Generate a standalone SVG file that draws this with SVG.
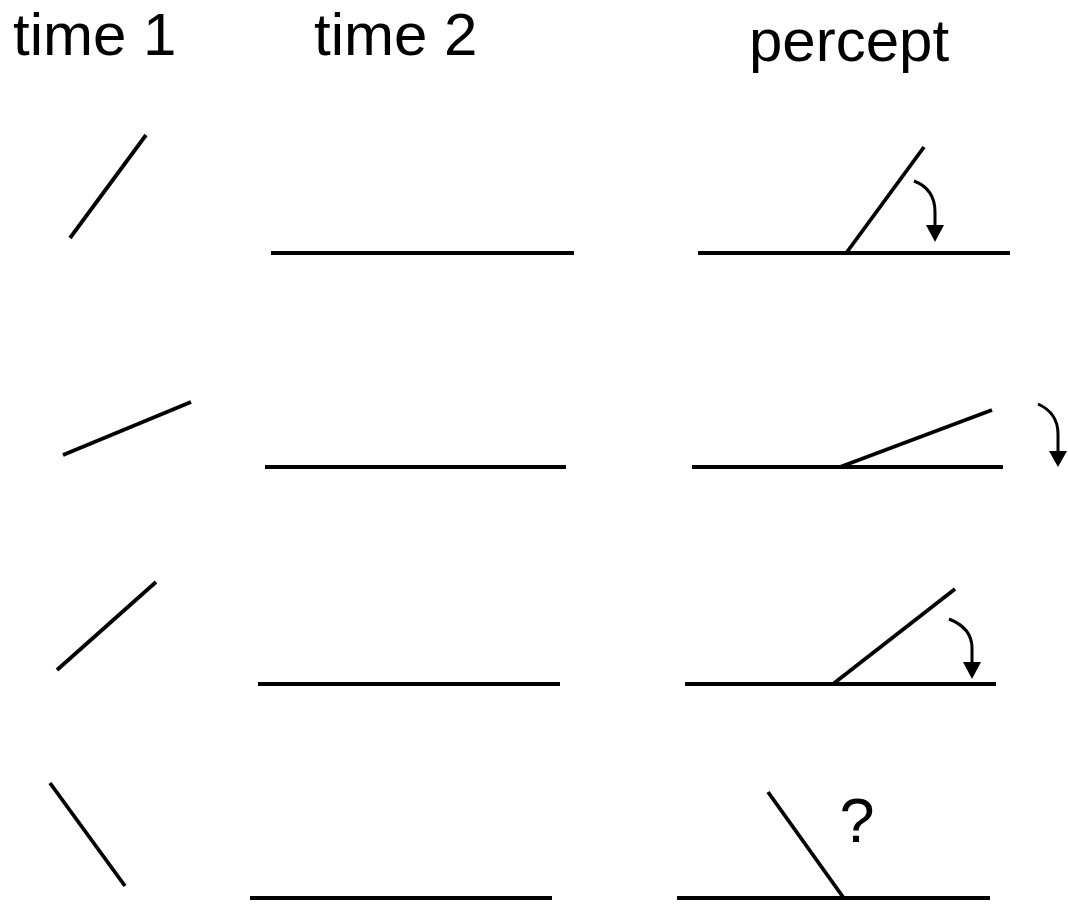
<svg xmlns="http://www.w3.org/2000/svg" width="1068" height="904" viewBox="0 0 1068 904">
<style>
.ln{stroke:#000;stroke-width:3.8;fill:none;stroke-linecap:butt}
.ar{stroke:#000;stroke-width:3;fill:none}
.hd{fill:#000}
.lbl{font-family:"Liberation Sans",Arial,sans-serif;font-size:60px;fill:#000}
</style>
<rect width="1068" height="904" fill="#fff"/>
<g id="headers">
<text class="lbl" x="13" y="55">time 1</text>
<text class="lbl" x="314" y="55">time 2</text>
<text class="lbl" x="749" y="61">percept</text>
</g>
<g id="row1">
<line class="ln" x1="70" y1="238" x2="146" y2="135"/>
<line class="ln" x1="271" y1="253" x2="574" y2="253"/>
<line class="ln" x1="698" y1="253" x2="1010" y2="253"/>
<line class="ln" x1="847" y1="252" x2="924" y2="147"/>
<path class="ar" d="M914,181 Q935,189 935,212 L935,228"/>
<polygon class="hd" points="926,225 944,225 935,242"/>
</g>
<g id="row2">
<line class="ln" x1="63" y1="455" x2="191" y2="402"/>
<line class="ln" x1="265" y1="467" x2="566" y2="467"/>
<line class="ln" x1="692" y1="467" x2="1003" y2="467"/>
<line class="ln" x1="840" y1="467" x2="992" y2="410"/>
<path class="ar" d="M1038,404 Q1058,413 1058,434 L1058,454"/>
<polygon class="hd" points="1049,451 1067,451 1058,467"/>
</g>
<g id="row3">
<line class="ln" x1="57" y1="670" x2="156" y2="582"/>
<line class="ln" x1="258" y1="684" x2="560" y2="684"/>
<line class="ln" x1="685" y1="684" x2="996" y2="684"/>
<line class="ln" x1="833" y1="684" x2="955" y2="589"/>
<path class="ar" d="M949,619 Q972,628 972,648 L972,665"/>
<polygon class="hd" points="963,662 981,662 972,679"/>
</g>
<g id="row4">
<line class="ln" x1="50" y1="783" x2="125" y2="886"/>
<line class="ln" x1="250" y1="898" x2="552" y2="898"/>
<line class="ln" x1="677" y1="898" x2="990" y2="898"/>
<line class="ln" x1="768" y1="792" x2="843" y2="897"/>
<text class="lbl" x="857" y="842" text-anchor="middle" style="font-size:63px">?</text>
</g>
</svg>
